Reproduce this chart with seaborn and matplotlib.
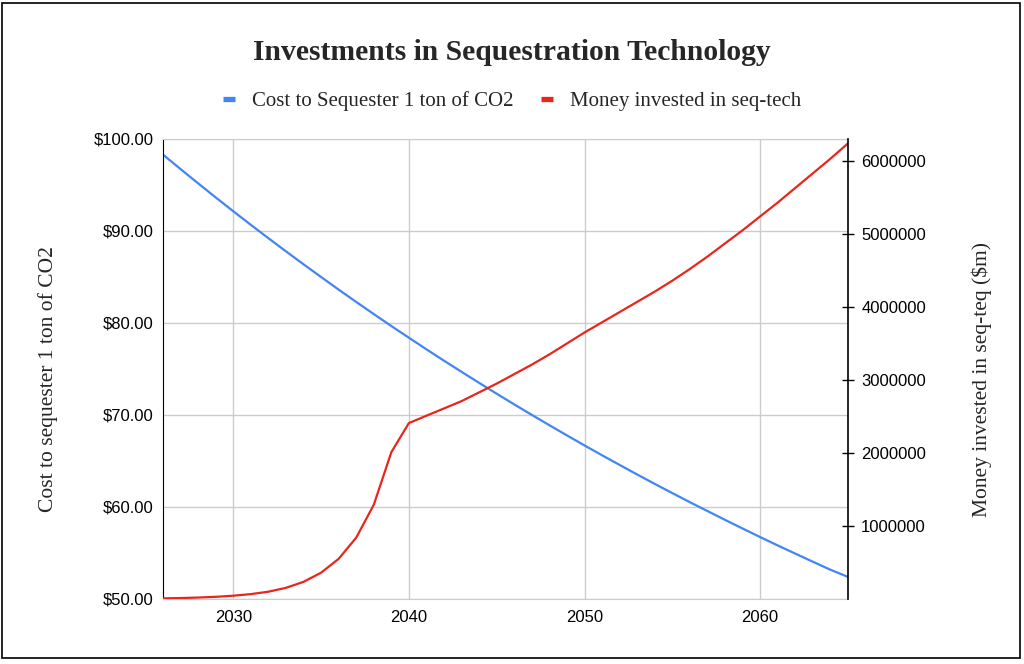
"""Investments in sequestration technology: cost per ton vs money invested"""

import numpy as np
import pandas as pd
import seaborn as sns
import matplotlib
matplotlib.use('Agg')
import matplotlib.pyplot as plt
from matplotlib.lines import Line2D
from matplotlib.patches import Rectangle
from matplotlib.ticker import FuncFormatter

sns.set_style('white')
plt.rcParams['font.family'] = ['Liberation Sans', 'DejaVu Sans']

# data
years = list(range(2026, 2066))
cost_per_ton = [98.30, 96.73, 95.18, 93.65, 92.15, 90.67, 89.22, 87.79, 86.38, 85.00,
                83.63, 82.29, 80.97, 79.67, 78.40, 77.14, 75.90, 74.69, 73.49, 72.31,
                71.15, 70.01, 68.89, 67.78, 66.69, 65.62, 64.57, 63.53, 62.51, 61.51,
                60.52, 59.56, 58.60, 57.66, 56.73, 55.82, 54.93, 54.05, 53.18, 52.40]
money_invested = [9000, 13000, 20000, 30000, 45000, 67000, 100000, 153000, 235000, 360000,
                  550000, 840000, 1290000, 2010000, 2410000, 2510000, 2610000, 2710000, 2830000, 2950000,
                  3080000, 3210000, 3350000, 3500000, 3650000, 3790000, 3930000, 4070000, 4210000, 4360000,
                  4520000, 4690000, 4870000, 5050000, 5240000, 5430000, 5630000, 5830000, 6030000, 6240000]
cost_ticks = [50, 60, 70, 80, 90, 100]
money_ticks = [1000000, 2000000, 3000000, 4000000, 5000000, 6000000]
year_ticks = [2030, 2040, 2050, 2060]

df = pd.DataFrame({'year': years, 'cost': cost_per_ton, 'money': money_invested})

blue = '#4285f4'
red = '#e8261c'
serif = ['Liberation Serif', 'DejaVu Serif']

fig = plt.figure(figsize=(10.24, 6.64), dpi=100)
ax = fig.add_axes([163 / 1024, 1 - 599 / 664, 685 / 1024, 460 / 664])
ax2 = ax.twinx()

sns.lineplot(data=df, x='year', y='cost', ax=ax, color=blue, linewidth=1.6)
sns.lineplot(data=df, x='year', y='money', ax=ax2, color=red, linewidth=1.6)

ax.set_xlim(2026, 2065)
ax.set_ylim(50, 100)
ax.set_xticks(year_ticks)
ax.set_yticks(cost_ticks)
ax.yaxis.set_major_formatter(FuncFormatter(lambda v, p: f'${v:.2f}'))
ax.grid(True, color='#cccccc', linewidth=1)
ax.tick_params(axis='both', length=0, labelsize=12, colors='black')
ax.tick_params(axis='y', pad=6.5)
ax.tick_params(axis='x', pad=8)
ax.set_xlabel('')
ax.set_ylabel('Cost to sequester 1 ton of CO2', family=serif, fontsize=15.5)
ax.yaxis.set_label_coords(-0.153, 0.478)
for s in ['top', 'bottom']:
    ax.spines[s].set_color('#cccccc')
ax.spines['left'].set_color('black')
ax.spines['right'].set_visible(False)

ax2.set_ylim(0, 6300000)
ax2.set_yticks(money_ticks)
ax2.yaxis.set_major_formatter(FuncFormatter(lambda v, p: f'{int(v)}'))
ax2.grid(False)
ax2.tick_params(axis='y', direction='inout', length=9, width=1, labelsize=12, pad=5, colors='black')
ax2.set_ylabel('Money invested in seq-teq ($m)', family=serif, fontsize=15.5)
ax2.yaxis.set_label_coords(1.18, 0.478)
for s in ['top', 'bottom', 'left']:
    ax2.spines[s].set_visible(False)
ax2.spines['right'].set_visible(True)
ax2.spines['right'].set_color('black')
ax2.spines['right'].set_linewidth(1.2)

fig.text(0.5, 1 - 53 / 664, 'Investments in Sequestration Technology', ha='center', va='center',
         family=serif, fontsize=21.3, fontweight='bold')

handles = [Line2D([], [], color=blue, linewidth=3.8, solid_capstyle='butt'),
           Line2D([], [], color=red, linewidth=3.8, solid_capstyle='butt')]
fig.legend(handles, ['Cost to Sequester 1 ton of CO2', 'Money invested in seq-tech'],
           loc='center', bbox_to_anchor=(0.5, 1 - 101 / 664), ncol=2, frameon=False,
           handlelength=0.6, handletextpad=0.8, columnspacing=1.3,
           prop={'family': serif, 'size': 15})

fig.patches.append(Rectangle((2 / 1024, 1 - 658 / 664), 1018 / 1024, 655 / 664,
                             transform=fig.transFigure, fill=False, edgecolor='black', linewidth=1.2))

fig.savefig('out.png', dpi=100, facecolor='white')
